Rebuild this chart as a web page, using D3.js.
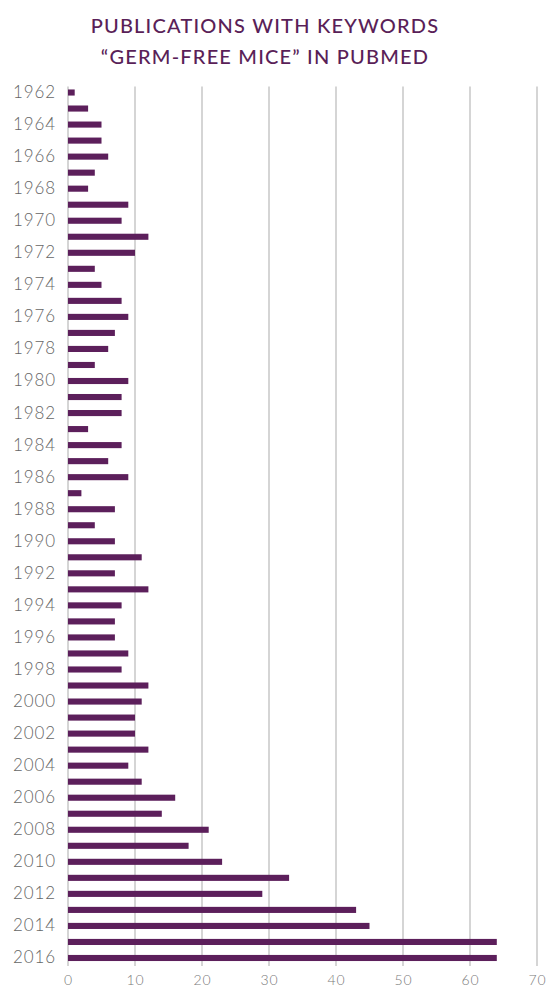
<!DOCTYPE html>
<html>
<head>
<meta charset="utf-8">
<script src="https://cdn.jsdelivr.net/npm/d3@7"></script>
<style>
  body { margin: 0; background: #fff; }
  .title { font-family: "Lato", "Noto Sans", sans-serif; font-weight: 500; fill: #5a1f58; font-size: 20px; letter-spacing: 1.2px; }
  .y.axis text { font-family: "Lato", "Noto Sans", sans-serif; font-weight: 300; fill: #666; font-size: 17px; letter-spacing: 0.9px; }
  .x.axis text { font-family: "Lato", "Noto Sans", sans-serif; font-weight: 300; fill: #7a7a7a; font-size: 14px; letter-spacing: 0.8px; }
</style>
</head>
<body>
<svg id="chart" width="550" height="1000"></svg>
<script>

var years = d3.range(1962, 2017);

var counts = [1, 3, 5, 5, 6, 4, 3, 9, 8, 12,
              10, 4, 5, 8, 9, 7, 6, 4, 9, 8,
              8, 3, 8, 6, 9, 2, 7, 4, 7, 11,
              7, 12, 8, 7, 7, 9, 8, 12, 11, 10,
              10, 12, 9, 11, 16, 14, 21, 18, 23, 33,
              29, 43, 45, 64, 64];

var xTicks = [0, 10, 20, 30, 40, 50, 60, 70];

var titleLines = ["PUBLICATIONS WITH KEYWORDS", "\u201CGERM-FREE MICE\u201D IN PUBMED"];

var data = years.map(function(y, i) { return { year: y, value: counts[i] }; });

var svg = d3.select("#chart");

var plotLeft = 68, plotRight = 537, plotTop = 84.5, plotBottom = 966;

var x = d3.scaleLinear().domain([0, 70]).range([plotLeft, plotRight]);

var y = d3.scaleBand()
  .domain(years)
  .range([plotTop, plotBottom])
  .paddingInner(0.62)
  .paddingOuter(0.31);

// title
svg.selectAll("text.title")
  .data(titleLines)
  .enter()
  .append("text")
  .attr("class", "title")
  .attr("x", 265)
  .attr("y", function(d, i) { return 33 + i * 31; })
  .attr("text-anchor", "middle")
  .text(function(d) { return d; });

// vertical gridlines
svg.append("g")
  .selectAll("line")
  .data(xTicks)
  .enter()
  .append("line")
  .attr("x1", function(d) { return x(d); })
  .attr("x2", function(d) { return x(d); })
  .attr("y1", plotTop + 2)
  .attr("y2", plotBottom)
  .attr("stroke", "#ababab")
  .attr("stroke-width", 1);

// bars
svg.append("g")
  .selectAll("rect")
  .data(data)
  .enter()
  .append("rect")
  .attr("x", x(0))
  .attr("y", function(d) { return y(d.year); })
  .attr("width", function(d) { return x(d.value) - x(0); })
  .attr("height", y.bandwidth())
  .attr("fill", "#5c1f5b");

// x axis labels
var xAxis = d3.axisBottom(x).tickValues(xTicks).tickSize(0).tickPadding(9);
svg.append("g")
  .attr("class", "x axis")
  .attr("transform", "translate(0," + plotBottom + ")")
  .call(xAxis)
  .call(function(g) { g.select(".domain").remove(); });

// y axis labels, every other year
var yAxis = d3.axisLeft(y)
  .tickValues(years.filter(function(d) { return d % 2 === 0; }))
  .tickSize(0)
  .tickPadding(12);
svg.append("g")
  .attr("class", "y axis")
  .attr("transform", "translate(" + plotLeft + ",0)")
  .call(yAxis)
  .call(function(g) { g.select(".domain").remove(); });

</script>
</body>
</html>
